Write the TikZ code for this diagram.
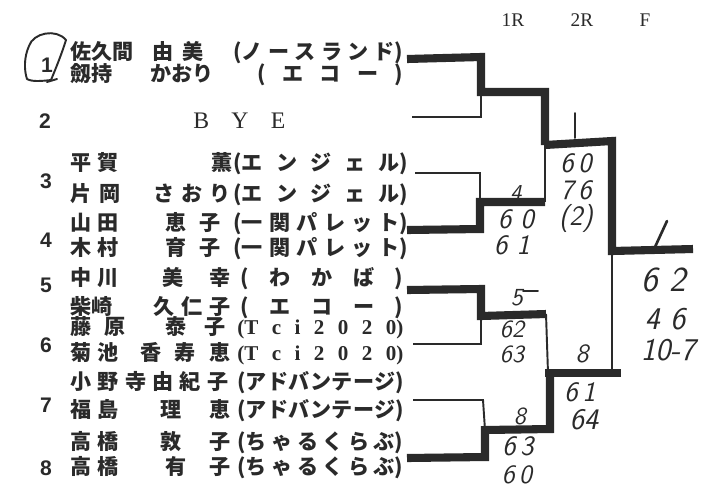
\documentclass[tikz,border=0pt]{standalone}
\usepackage{fontspec}
\setmainfont{Liberation Serif}
\newfontfamily\jp{Noto Sans CJK JP}
\newfontfamily\numfont{Liberation Sans}
\definecolor{ink}{HTML}{2A2A2A}
\newlength\px
\setlength\px{0.02cm}
\newcommand\spbox[2]{\makebox[#1\px][s]{#2}}
\newcommand\plrow[8]{\rlap{\spbox{#1}{#2}}\rlap{\hspace*{#3\px}\spbox{#4}{#5}}\hspace*{#6\px}\spbox{#7}{#8}}
\newcommand\clubA{(エ\hfill ン\hfill ジ\hfill ェ\hfill ル)}
\newcommand\clubB{(一\hfill 関\hfill パ\hfill レ\hfill ッ\hfill ト)}
\newcommand\clubC{(\hfill エ\hfill コ\hfill ー\hfill)}
\newcommand\clubT{\rmfamily\bfseries(T\hfill c\hfill i\hfill 2\hfill 0\hfill 2\hfill 0)}
\newcommand\clubD{(ア\hfill ド\hfill バ\hfill ン\hfill テ\hfill ー\hfill ジ)}
\newcommand\clubE{(ち\hfill ゃ\hfill る\hfill く\hfill ら\hfill ぶ)}
\tikzset{
  player/.style={anchor=base west, inner sep=0pt, text=ink, font=\jp\bfseries\fontsize{12}{12}\selectfont},
  seed/.style={inner sep=0pt, text=ink, font=\numfont\bfseries\fontsize{12}{12}\selectfont},
  head/.style={inner sep=0pt, text=ink, font=\rmfamily\fontsize{11}{11}\selectfont},
  hand/.style={inner sep=0pt, text=ink, font=\sffamily\itshape\fontsize{16}{16}\selectfont},
  thickln/.style={draw=ink, line width=4.6pt, line join=miter},
  thinln/.style={draw=ink, line width=1.1pt},
  penln/.style={draw=ink, line width=1.1pt, line cap=round, line join=round}
}
\begin{document}
\begin{tikzpicture}[x=0.02cm, y=-0.02cm]
\useasboundingbox (0,0) rectangle (726,488);
\fill[white] (0,0) rectangle (726,488);

% headers
\node[head] (h1) at (513,20) {1R};
\node[head] (h2) at (582,20) {2R};
\node[head] (h3) at (645,20) {F};

% seed numbers
\node[seed] (n1) at (47,65) {1};
\node[seed] (n2) at (45,121) {2};
\node[seed] (n3) at (46,181) {3};
\node[seed] (n4) at (46,240) {4};
\node[seed] (n5) at (46,285) {5};
\node[seed] (n6) at (46,345) {6};
\node[seed] (n7) at (46,405) {7};
\node[seed] (n8) at (46,468) {8};

% hand-drawn circle round 1
\draw[penln] (29,46) .. controls (33,33) and (56,28) .. (66,40)
  .. controls (62,53) and (56,68) .. (51,80)
  .. controls (42,81) and (32,82) .. (27,79)
  .. controls (24,70) and (24,57) .. (29,46);
\draw[penln] (47,82) -- (57,79);

% players
\node[player] (p1a) at (70,59) {\plrow{63}{佐\hfill 久\hfill 間}{82}{51}{由\hfill 美}{163}{170}{(ノ\hfill ー\hfill ス\hfill ラ\hfill ン\hfill ド)}};
\node[player] (p1b) at (70,81) {\plrow{42}{劔\hfill 持}{80}{53}{か\hfill お\hfill り}{187}{146}{\clubC}};
\node[anchor=base west, inner sep=0pt, text=ink, font=\rmfamily\fontsize{13.5}{13.5}\selectfont] (bye) at (193,128) {\spbox{92}{B\hfill Y\hfill E}};
\node[player] (p3a) at (70,170) {\plrow{48}{平\hfill 賀}{141}{20}{\hfill 薫}{163}{175}{\clubA}};
\node[player] (p3b) at (70,201) {\plrow{50}{片\hfill 岡}{83}{77}{さ\hfill お\hfill り}{163}{175}{\clubA}};
\node[player] (p4a) at (70,230) {\plrow{48}{山\hfill 田}{95}{55}{恵\hfill 子}{163}{175}{\clubB}};
\node[player] (p4b) at (70,255) {\plrow{48}{木\hfill 村}{95}{55}{育\hfill 子}{163}{175}{\clubB}};
\node[player] (p5a) at (70,285) {\plrow{48}{中\hfill 川}{92}{68}{美\hfill 幸}{170}{163}{(\hfill わ\hfill か\hfill ば\hfill)}};
\node[player] (p5b) at (70,314) {\plrow{42}{柴\hfill 崎}{83}{77}{久\hfill 仁\hfill 子}{170}{163}{\clubC}};
\node[player] (p6a) at (70,334) {\plrow{55}{藤\hfill 原}{95}{60}{泰\hfill 子}{167}{166}{\clubT}};
\node[player] (p6b) at (70,360) {\plrow{48}{菊\hfill 池}{70}{90}{香\hfill 寿\hfill 恵}{167}{166}{\clubT}};
\node[player] (p7a) at (70,389) {\plrow{158}{小\hfill 野\hfill 寺\hfill 由\hfill 紀\hfill 子}{0}{0}{}{167}{167}{\clubD}};
\node[player] (p7b) at (70,417) {\plrow{48}{福\hfill 島}{90}{70}{理\hfill 恵}{167}{167}{\clubD}};
\node[player] (p8a) at (70,449) {\plrow{48}{高\hfill 橋}{90}{70}{敦\hfill 子}{167}{166}{\clubE}};
\node[player] (p8b) at (70,474) {\plrow{48}{高\hfill 橋}{95}{65}{有\hfill 子}{167}{166}{\clubE}};

% bracket points
\coordinate (a1) at (407,59);   \coordinate (a1c) at (481,57);
\coordinate (m1) at (481,92);
\coordinate (a2) at (412,117);  \coordinate (a2c) at (481,117);
\coordinate (b1) at (545,92);   \coordinate (q1) at (545,145);
\coordinate (a3) at (415,173);  \coordinate (a3c) at (480,173);
\coordinate (a4) at (407,230);  \coordinate (a4c) at (480,229);
\coordinate (m2) at (480,202);  \coordinate (b2) at (545,202);
\coordinate (t1) at (612,141);  \coordinate (fin) at (612,251);
\coordinate (champ) at (693,249);
\coordinate (a5) at (407,290);  \coordinate (a5c) at (481,289);
\coordinate (m3) at (481,316);  \coordinate (b3) at (546,314);
\coordinate (a6) at (413,344);  \coordinate (a6c) at (481,344);
\coordinate (q2) at (548,373);
\coordinate (a7) at (413,400);  \coordinate (a7c) at (483,400);
\coordinate (a8) at (407,458);  \coordinate (a8c) at (485,457);
\coordinate (m4) at (485,430);  \coordinate (b4) at (550,429);
\coordinate (t2) at (621,373);  \coordinate (f2) at (612,373);

% first round and upward
\draw[thinln] (a2) -- (a2c) -- (m1);
\draw[thickln] (a1) -- (a1c) -- (m1) -- (b1) -- (q1);
\draw[thinln] (a3) -- (a3c) -- (m2);
\draw[thickln] (a4) -- (a4c) -- (m2) -- (b2);
\draw[thinln] (b2) -- (q1);
\draw[thickln] (q1) -- (t1) -- (fin) -- (champ);
\draw[thinln] (a6) -- (a6c) -- (m3);
\draw[thickln] (a5) -- (a5c) -- (m3) -- (b3);
\draw[thinln] (b3) -- (q2);
\draw[thinln] (a7) -- (a7c) -- (m4);
\draw[thickln] (a8) -- (a8c) -- (m4) -- (b4) -- (b4 |- q2);
\draw[thickln] (545,373) -- (t2);
\draw[thinln] (f2) -- (fin);

% handwritten marks
\draw[penln] (575,113) -- (575,138);
\draw[penln, line width=1.5pt] (667,221) -- (655,247);

\node[hand, font=\sffamily\itshape\fontsize{13}{13}\selectfont] (w1) at (516,193) {4};
\node[hand] (s1) at (516,219) {6\,\,0};
\node[hand] (s2) at (512,245) {6\,\,1};
\node[hand] (s3) at (576,163) {6\,0};
\node[hand] (s4) at (576,190) {7\,6};
\node[hand] (s5) at (576,218) {(2)};
\node[hand, font=\sffamily\itshape\fontsize{20}{20}\selectfont] (s6) at (664,280) {6\,\,2};
\node[hand, font=\sffamily\itshape\fontsize{18}{18}\selectfont] (s7) at (665,319) {4\,\,6};
\node[hand, font=\sffamily\itshape\fontsize{18}{18}\selectfont] (s8) at (668,350) {10-7};
\node[hand, font=\sffamily\itshape\fontsize{14}{14}\selectfont] (w5) at (517,298) {5};
\draw[penln] (523,291) -- (538,291);
\node[hand, font=\sffamily\itshape\fontsize{14}{14}\selectfont] (s9) at (512,329) {62};
\node[hand, font=\sffamily\itshape\fontsize{14}{14}\selectfont] (s10) at (512,354) {63};
\node[hand, font=\sffamily\itshape\fontsize{14}{14}\selectfont] (w8a) at (520,416) {8};
\node[hand] (s11) at (518,446) {6\,3};
\node[hand, font=\sffamily\itshape\fontsize{15}{15}\selectfont] (s12) at (517,475) {6\,0};
\node[hand, font=\sffamily\itshape\fontsize{15}{15}\selectfont] (w8b) at (582,354) {8};
\node[hand] (s13) at (580,392) {6\,1};
\node[hand, font=\sffamily\itshape\fontsize{17}{17}\selectfont] (s14) at (584,420) {64};
\end{tikzpicture}
\end{document}
